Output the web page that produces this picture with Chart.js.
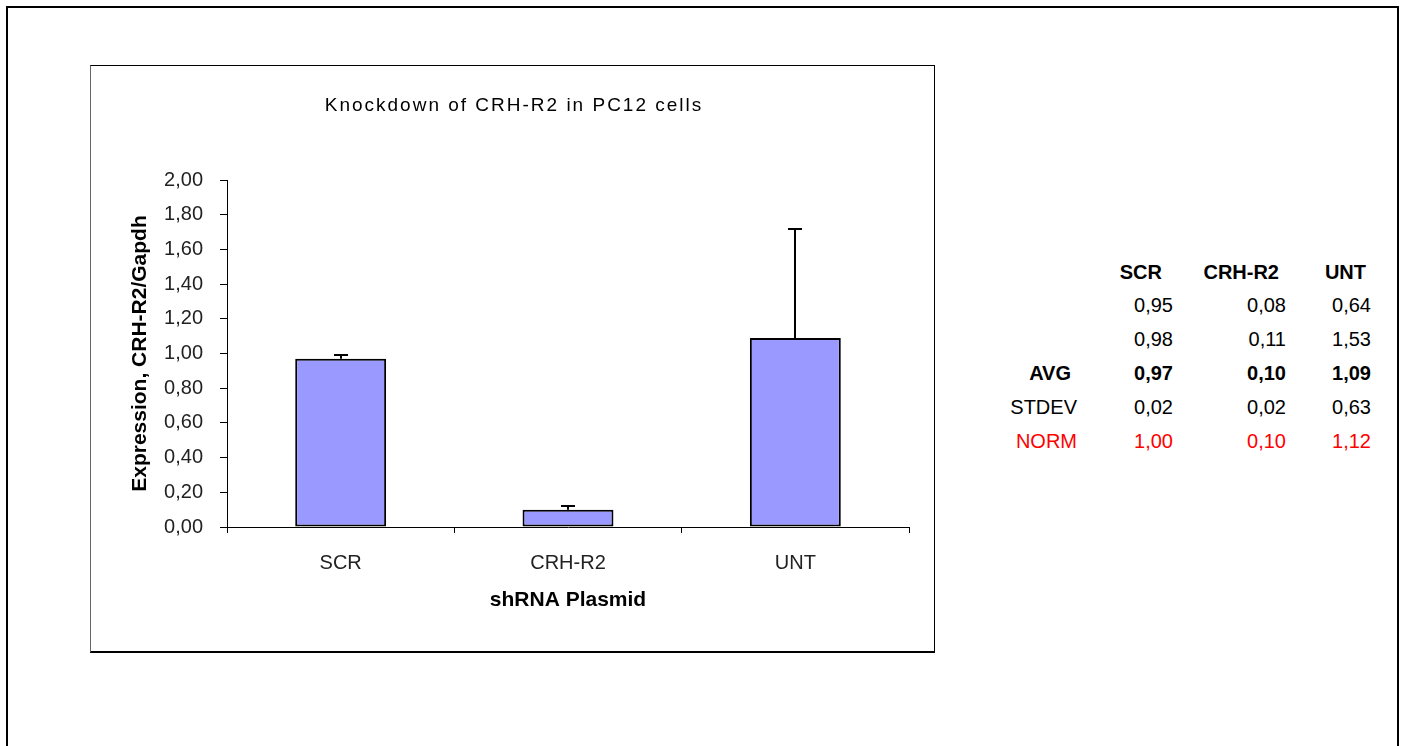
<!DOCTYPE html>
<html><head><meta charset="utf-8">
<script src="https://cdn.jsdelivr.net/npm/chart.js@4.4.0/dist/chart.umd.min.js"></script>
<style>
html,body{margin:0;padding:0;background:#fff;width:1406px;height:746px;overflow:hidden;font-family:Arial,"Liberation Sans",sans-serif;}
#outer{position:absolute;left:6px;top:6px;width:1389px;height:760px;border:2px solid #000;}
#frame{position:absolute;left:90px;top:65px;width:843px;height:585px;border-top:1px solid #000;border-left:1px solid #666;border-right:1px solid #000;border-bottom:2px solid #000;}
#wrap{position:absolute;left:91px;top:66px;width:843px;height:585px;}
.t{position:absolute;font-size:20px;line-height:20px;white-space:nowrap;transform:translate(-100%,-50%);color:#000;}
.b{font-weight:bold;}
.r{color:#ff0000;}
</style>
</head><body>
<div id="outer"></div>
<div id="frame"></div>
<div id="wrap"><canvas id="c"></canvas></div>
<div id="table"></div>
<script>
const categories = ['SCR', 'CRH-R2', 'UNT'];
const rep1  = [0.95, 0.08, 0.64];
const rep2  = [0.98, 0.11, 1.53];
const avg   = [0.97, 0.10, 1.09];
const stdev = [0.02, 0.02, 0.63];
const norm  = [1.00, 0.10, 1.12];
const yTicks = [0, 0.2, 0.4, 0.6, 0.8, 1.0, 1.2, 1.4, 1.6, 1.8, 2.0];
const chartTitle = 'Knockdown of CRH-R2 in PC12 cells';
const yTitle = 'Expression, CRH-R2/Gapdh';
const xTitle = 'shRNA Plasmid';

const fmt = v => v.toFixed(2).replace('.', ',');

// ---- side table (HTML text) ----
const table = document.getElementById('table');
function put(text, right, cy, cls) {
  const s = document.createElement('span');
  s.className = 't ' + (cls || '');
  s.textContent = text;
  s.style.left = right + 'px';
  s.style.top = cy + 'px';
  table.appendChild(s);
}
const headRight = [1162, 1279, 1366];
const valRight = [1173, 1286, 1371];
categories.forEach((c, i) => put(c, headRight[i], 272, 'b'));
const rows = [
  {label: '', vals: rep1, y: 305, cls: ''},
  {label: '', vals: rep2, y: 339, cls: ''},
  {label: 'AVG', vals: avg, y: 373, cls: 'b', lr: 1071},
  {label: 'STDEV', vals: stdev, y: 407, cls: '', lr: 1077},
  {label: 'NORM', vals: norm, y: 441, cls: 'r', lr: 1077}
];
rows.forEach(r => {
  if (r.label) put(r.label, r.lr, r.y, r.cls);
  r.vals.forEach((v, i) => put(fmt(v), valRight[i], r.y, r.cls));
});

// ---- chart ----
const errorBars = {
  id: 'errorBars',
  afterDatasetsDraw(chart) {
    const ctx = chart.ctx, meta = chart.getDatasetMeta(0), y = chart.scales.y;
    ctx.save();
    ctx.strokeStyle = '#000';
    ctx.lineWidth = 2;
    meta.data.forEach((bar, i) => {
      const top = Math.round(y.getPixelForValue(avg[i] + stdev[i]));
      const x = Math.round(bar.x);
      ctx.beginPath();
      ctx.moveTo(x, bar.y);
      ctx.lineTo(x, top);
      ctx.moveTo(x - 7, top);
      ctx.lineTo(x + 7, top);
      ctx.stroke();
    });
    ctx.restore();
  }
};
const spacedTitle = {
  id: 'spacedTitle',
  beforeDraw(chart) {
    const tb = chart.titleBlock;
    if (tb && !tb._patched) {
      const orig = tb.draw;
      tb.draw = function () {
        const c = this.ctx;
        c.save();
        c.letterSpacing = '2px';
        c.translate(14, 0);
        orig.apply(this, arguments);
        c.restore();
      };
      tb._patched = true;
    }
  }
};
const FONT = "Arial, 'Liberation Sans', sans-serif";
new Chart(document.getElementById('c'), {
  type: 'bar',
  data: {
    labels: categories,
    datasets: [{
      data: avg,
      backgroundColor: '#9999FF',
      borderColor: '#000',
      borderWidth: 2,
      borderSkipped: false,
      barPercentage: 0.4,
      categoryPercentage: 1
    }]
  },
  options: {
    responsive: true,
    maintainAspectRatio: false,
    animation: false,
    layout: {padding: {left: 0, right: 25, top: 0, bottom: 0}},
    plugins: {
      legend: {display: false},
      tooltip: {enabled: false},
      title: {
        display: true, text: chartTitle, color: '#000',
        font: {family: FONT, size: 19, weight: 'normal'},
        padding: {top: 28.6, bottom: 62.6}
      }
    },
    scales: {
      x: {
        grid: {offset: true, drawOnChartArea: false, drawTicks: true, tickLength: 6, color: '#000', lineWidth: 1},
        border: {color: '#000', width: 1},
        ticks: {color: '#222', font: {family: FONT, size: 20}, padding: 18, maxRotation: 0},
        title: {display: true, text: xTitle, color: '#000', font: {family: FONT, size: 21, weight: 'bold'}, padding: {top: 0, bottom: 38.5}},
        afterFit(s) { s.height = 124; }
      },
      y: {
        min: 0, max: 2,
        afterBuildTicks(s) { s.ticks = yTicks.map(v => ({value: v})); },
        grid: {drawOnChartArea: false, tickLength: 7, color: '#000', lineWidth: 1},
        border: {color: '#000', width: 1},
        ticks: {color: '#222', font: {family: FONT, size: 20}, padding: 17, callback: v => fmt(v)},
        title: {display: true, text: yTitle, color: '#000', font: {family: FONT, size: 21, weight: 'bold'}, padding: {top: 36.5, bottom: 0}},
        afterFit(s) { s.width = 136; }
      }
    }
  },
  plugins: [errorBars, spacedTitle]
});
</script>
</body></html>
